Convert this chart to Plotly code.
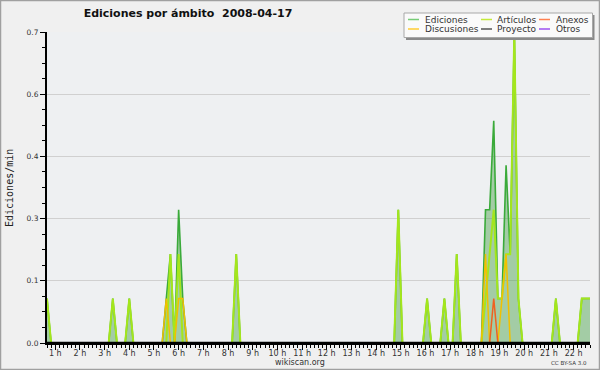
import plotly.graph_objects as go

# ---------------- data ----------------
# times are "HH:MM" of 10-minute bins, values are edits/min
ediciones_t = ["00:40", "00:50", "03:10", "03:20", "03:30", "03:50", "04:00", "04:10",
               "05:20", "05:30", "05:40", "05:50", "06:00", "06:10", "06:20",
               "08:10", "08:20", "08:30", "14:44", "14:54", "15:04",
               "15:54", "16:04", "16:14", "16:36", "16:46", "16:56",
               "17:06", "17:16", "17:26",
               "18:16", "18:26", "18:36", "18:46", "18:56", "19:06", "19:16",
               "19:26", "19:36", "19:46", "19:56",
               "21:07", "21:17", "21:27", "22:10", "22:20", "22:30", "22:40"]
ediciones_v = [0.1, 0, 0, 0.1, 0, 0, 0.1, 0,
               0, 0.1, 0.2, 0, 0.3, 0.1, 0,
               0, 0.2, 0, 0, 0.3, 0,
               0, 0.1, 0, 0, 0.1, 0,
               0, 0.2, 0,
               0, 0.3, 0.3, 0.5, 0.1, 0.1, 0.4,
               0.2, 0.7, 0.1, 0,
               0, 0.1, 0, 0, 0.1, 0.1, 0.1]

articulos_t = ["00:40", "00:50", "03:10", "03:20", "03:30", "03:50", "04:00", "04:10",
               "05:30", "05:40", "05:50", "06:00", "06:10",
               "08:10", "08:20", "08:30", "14:44", "14:54", "15:04",
               "15:54", "16:04", "16:14", "16:36", "16:46", "16:56",
               "17:06", "17:16", "17:26",
               "18:16", "18:26", "18:36", "18:46", "18:56", "19:06", "19:16",
               "19:26", "19:36", "19:46", "19:56",
               "21:07", "21:17", "21:27", "22:10", "22:20", "22:30", "22:40"]
articulos_v = [0.1, 0, 0, 0.1, 0, 0, 0.1, 0,
               0, 0.2, 0, 0.2, 0,
               0, 0.2, 0, 0, 0.3, 0,
               0, 0.1, 0, 0, 0.1, 0,
               0, 0.2, 0,
               0, 0.1, 0.2, 0.3, 0.1, 0.1, 0.2,
               0.2, 0.7, 0.1, 0,
               0, 0.1, 0, 0, 0.1, 0.1, 0.1]

discusiones_t = ["05:20", "05:30", "05:40", "05:50", "06:00", "06:10", "06:20",
                 "18:16", "18:26", "18:36", "18:46", "18:56", "19:06", "19:16", "19:26"]
discusiones_v = [0, 0.1, 0, 0, 0.1, 0.1, 0,
                 0, 0.2, 0, 0, 0, 0.1, 0.2, 0]

anexos_t = ["18:36", "18:46", "18:56"]
anexos_v = [0, 0.1, 0]

proyecto_t = ["00:40", "22:40"]
proyecto_v = [0, 0]

otros_t = ["00:40", "22:40"]
otros_v = [0, 0]

hour_ticks = list(range(1, 23))
hour_labels = [f"{h} h" for h in hour_ticks]
y_ticks = [0, 0.14, 0.28, 0.42, 0.56, 0.7]
y_labels = ["0.0", "0.1", "0.3", "0.4", "0.6", "0.7"]

legend_names = ["Ediciones", "Artículos", "Anexos", "Discusiones", "Proyecto", "Otros"]
legend_colors = ["#77cc77", "#c4ea3a", "#ff8050", "#ffcc33", "#555555", "#9c50f0"]

# ---------------- helpers ----------------
def hours(ts):
    return [int(t[:2]) + int(t[3:]) / 60 for t in ts]

W, H = 600, 370
ML, MR, MT, MB = 47, 10, 32, 27
PW, PH = W - ML - MR, H - MT - MB

def px(x):
    return (x - ML) / PW

def py(y):
    return (H - MB - y) / PH

FONT = "DejaVu Sans"

fig = go.Figure()

fig.add_trace(go.Scatter(x=hours(ediciones_t), y=ediciones_v, mode="lines",
                         line=dict(color="#3aaa3a", width=1.6),
                         fill="tozeroy", fillcolor="rgba(70,160,70,0.45)",
                         showlegend=False, name="Ediciones"))
fig.add_trace(go.Scatter(x=hours(proyecto_t), y=proyecto_v, mode="lines",
                         line=dict(color="#555555", width=1.2), showlegend=False, name="Proyecto"))
fig.add_trace(go.Scatter(x=hours(otros_t), y=otros_v, mode="lines",
                         line=dict(color="#9c50f0", width=1.2), showlegend=False, name="Otros"))
fig.add_trace(go.Scatter(x=hours(articulos_t), y=articulos_v, mode="lines",
                         line=dict(color="#a4e61c", width=2), showlegend=False, name="Artículos"))
fig.add_trace(go.Scatter(x=hours(discusiones_t), y=discusiones_v, mode="lines",
                         line=dict(color="#f2c000", width=1.5), showlegend=False, name="Discusiones"))
fig.add_trace(go.Scatter(x=hours(anexos_t), y=anexos_v, mode="lines",
                         line=dict(color="#f06020", width=1.5), showlegend=False, name="Anexos"))

shapes = []
annotations = []

# black base line hiding the zero-valued segments (as in the reference)
shapes.append(dict(type="line", xref="paper", yref="y", layer="above",
                   x0=0, x1=1, y0=0, y1=0, line=dict(color="#000000", width=2.5)))

# legend box with shadow
shapes.append(dict(type="rect", xref="paper", yref="paper", layer="above",
                   x0=px(406), x1=px(594.5), y0=py(40), y1=py(15),
                   fillcolor="#8a8a8a", line=dict(width=0)))
shapes.append(dict(type="rect", xref="paper", yref="paper", layer="above",
                   x0=px(404), x1=px(592.5), y0=py(37.5), y1=py(13),
                   fillcolor="#fafafa", line=dict(color="#a8a8a8", width=1)))

col_line_x = [408, 481, 539]
col_text_x = [423, 495, 554]
row_y = [19.5, 29]
for i, (name, col) in enumerate(zip(legend_names, legend_colors)):
    c, r = i % 3, i // 3
    shapes.append(dict(type="line", xref="paper", yref="paper", layer="above",
                       x0=px(col_line_x[c]), x1=px(col_line_x[c] + 11),
                       y0=py(row_y[r]), y1=py(row_y[r]),
                       line=dict(color=col, width=1.5)))
    annotations.append(dict(text=name, xref="paper", yref="paper",
                            x=px(col_text_x[c]), y=py(row_y[r]),
                            xanchor="left", yanchor="middle", showarrow=False,
                            font=dict(family=FONT, size=9, color="#333333")))

# frame around the image
shapes.append(dict(type="rect", xref="paper", yref="paper", layer="above",
                   x0=px(0.5), x1=px(599.5), y0=py(369.5), y1=py(0.5),
                   line=dict(color="#a0a0a0", width=1.5)))

annotations.append(dict(text="Ediciones/min", xref="paper", yref="paper",
                        x=px(9), y=py(188), textangle=-90, showarrow=False,
                        xanchor="center", yanchor="middle",
                        font=dict(family="DejaVu Sans Mono", size=10, color="#222222")))
annotations.append(dict(text="wikiscan.org", xref="paper", yref="paper",
                        x=px(300), y=py(362.5), showarrow=False,
                        xanchor="center", yanchor="middle",
                        font=dict(family=FONT, size=8, color="#333333")))
annotations.append(dict(text="CC BY-SA 3.0", xref="paper", yref="paper",
                        x=px(569), y=py(363), showarrow=False,
                        xanchor="center", yanchor="middle",
                        font=dict(family=FONT, size=5.5, color="#333333")))

fig.update_layout(
    width=W, height=H,
    margin=dict(l=ML, r=MR, t=MT, b=MB, pad=0),
    paper_bgcolor="#f0f0f0", plot_bgcolor="#eef0f2",
    title=dict(text="<b>Ediciones por ámbito  2008-04-17</b>",
               x=188 / W, y=1 - 13.5 / H, xanchor="center", yanchor="middle",
               font=dict(family=FONT, size=11, color="#111111")),
    shapes=shapes, annotations=annotations,
    showlegend=False,
)

fig.update_xaxes(range=[40 / 60, 22 + 40 / 60], tickmode="array",
                 tickvals=hour_ticks, ticktext=hour_labels,
                 ticks="outside", ticklen=5, tickwidth=1, tickcolor="#000000",
                 showline=True, linecolor="#000000", linewidth=2,
                 showgrid=False, zeroline=False, ticklabelstandoff=-4,
                 tickfont=dict(family=FONT, size=8, color="#333333"),
                 minor=dict(dtick=1 / 6, tick0=0, ticks="outside", ticklen=3,
                            tickcolor="#000000", tickwidth=1, showgrid=False))
fig.update_yaxes(range=[0, 0.7], tickmode="array",
                 tickvals=y_ticks, ticktext=y_labels,
                 ticks="outside", ticklen=5, tickwidth=1, tickcolor="#000000",
                 showline=True, linecolor="#000000", linewidth=2,
                 showgrid=True, gridcolor="#d0d0d0", gridwidth=1, zeroline=False,
                 tickfont=dict(family=FONT, size=7.5, color="#333333"),
                 minor=dict(dtick=0.035, tick0=0, ticks="outside", ticklen=3,
                            tickcolor="#000000", tickwidth=1, showgrid=False))

fig.write_html("out.html", config={"displayModeBar": False},
               post_script="document.body.style.margin='0';document.body.style.overflow='hidden';")
